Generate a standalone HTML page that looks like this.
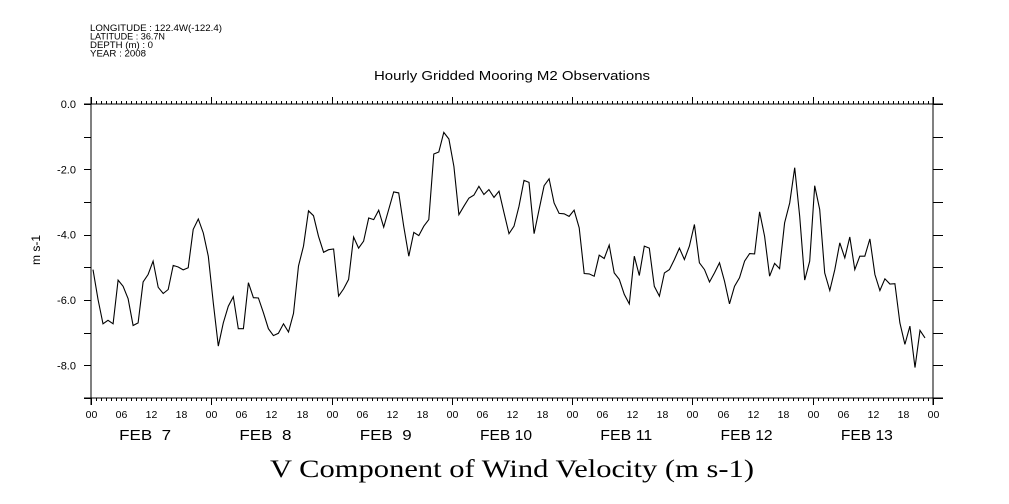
<!DOCTYPE html>
<html><head><meta charset="utf-8"><style>
html,body{margin:0;padding:0;background:#fff;}
svg{display:block;}
text{font-family:"Liberation Sans",sans-serif;fill:#000;}
</style></head><body>
<svg id="chart" width="1009" height="504" viewBox="0 0 1009 504" xmlns="http://www.w3.org/2000/svg">
<g font-size="9.5">
<text x="90" y="31" textLength="132" lengthAdjust="spacingAndGlyphs">LONGITUDE : 122.4W(-122.4)</text>
<text x="90" y="39.5" textLength="75" lengthAdjust="spacingAndGlyphs">LATITUDE : 36.7N</text>
<text x="90" y="48" textLength="63" lengthAdjust="spacingAndGlyphs">DEPTH (m) : 0</text>
<text x="90" y="56.5" textLength="56" lengthAdjust="spacingAndGlyphs">YEAR : 2008</text>
</g>
<text x="374" y="80" textLength="276" lengthAdjust="spacingAndGlyphs" font-size="13">Hourly Gridded Mooring M2 Observations</text>
<text transform="translate(40,250) rotate(-90)" text-anchor="middle" font-size="12">m s-1</text>
<text x="270" y="477" textLength="484" lengthAdjust="spacingAndGlyphs" font-size="25" style="font-family:'Liberation Serif',serif">V Component of Wind Velocity (m s-1)</text>
<g id="axes"></g>
<path id="series" fill="none" stroke="#000" stroke-width="1.1"/>
</svg>
<script>
const values = [-5.07,-5.98,-6.73,-6.62,-6.73,-5.39,-5.58,-5.96,-6.78,-6.70,-5.45,-5.22,-4.81,-5.61,-5.80,-5.68,-4.94,-4.99,-5.08,-5.01,-3.84,-3.52,-3.95,-4.66,-6.09,-7.41,-6.70,-6.19,-5.90,-6.88,-6.88,-5.47,-5.93,-5.94,-6.39,-6.88,-7.09,-7.02,-6.73,-6.98,-6.41,-4.96,-4.35,-3.27,-3.42,-4.05,-4.54,-4.46,-4.44,-5.88,-5.66,-5.37,-4.07,-4.41,-4.20,-3.49,-3.54,-3.25,
-3.77,-3.23,-2.69,-2.72,-3.74,-4.66,-3.93,-4.03,-3.74,-3.54,-1.53,-1.47,-0.87,-1.07,-1.91,-3.39,-3.13,-2.88,-2.79,-2.52,-2.77,-2.62,-2.86,-2.67,-3.33,-3.97,-3.74,-3.13,-2.34,-2.40,-3.97,-3.23,-2.50,-2.29,-3.03,-3.35,-3.36,-3.44,-3.25,-3.79,-5.19,-5.20,-5.27,-4.63,-4.73,-4.32,-5.17,-5.37,-5.83,-6.12,-4.66,-5.25,-4.35,-4.41,-5.58,-5.88,-5.17,-5.07,
-4.76,-4.41,-4.76,-4.35,-3.69,-4.86,-5.07,-5.45,-5.17,-4.86,-5.42,-6.12,-5.58,-5.32,-4.81,-4.58,-4.59,-3.30,-4.05,-5.27,-4.88,-5.04,-3.64,-3.03,-1.95,-3.44,-5.39,-4.81,-2.50,-3.23,-5.17,-5.71,-5.07,-4.25,-4.71,-4.07,-5.07,-4.66,-4.66,-4.13,-5.22,-5.71,-5.35,-5.51,-5.50,-6.70,-7.36,-6.80,-8.07,-6.93,-7.16];
const hourLabels = ["00","06","12","18"];
const dayLabels = ["FEB  7","FEB  8","FEB  9","FEB 10","FEB 11","FEB 12","FEB 13"];
const yTicks = [0,-1,-2,-3,-4,-5,-6,-7,-8,-9];
const yLabels = ["0.0","-2.0","-4.0","-6.0","-8.0"];
const yLabelValues = [0,-2,-4,-6,-8];

const X0=91, X1=933, Y0=104, Y1=398, HOURS=168, VMAX=0, VMIN=-9;
function xs(h){return X0+(X1-X0)*h/HOURS;}
function ys(v){return Y0+(Y1-Y0)*(VMAX-v)/(VMAX-VMIN);}
const NS='http://www.w3.org/2000/svg';
const axes=document.getElementById('axes');
function line(x1,y1,x2,y2,name){
  const l=document.createElementNS(NS,'line');
  l.setAttribute('x1',x1);l.setAttribute('y1',y1);l.setAttribute('x2',x2);l.setAttribute('y2',y2);
  l.setAttribute('stroke','#000');l.setAttribute('stroke-width','1');
  
  
  axes.appendChild(l);
}
function text(x,y,s,size,anchor,name,len){
  const t=document.createElementNS(NS,'text');
  t.setAttribute('x',x);t.setAttribute('y',y);t.setAttribute('font-size',size);
  t.setAttribute('text-anchor',anchor);t.textContent=s;
  if(len){t.setAttribute('textLength',len);t.setAttribute('lengthAdjust','spacingAndGlyphs');}
  
  
  t.setAttribute('xml:space','preserve');t.style.whiteSpace='pre';
  axes.appendChild(t);
}
line(X0,Y0-7,X0,Y1+7,'left-axis');
line(X1,Y0-7,X1,Y1+7,'right-axis');
line(X0-7,Y0,X1+10,Y0,'top-axis');
line(X0-7,Y1,X1+10,Y1,'bottom-axis');
for(let h=0;h<=HOURS;h++){
  const x=Math.round(xs(h))+0.5, major=h%24===0;
  line(x,Y0,x,Y0-(major?7:3),'top-tick');
  line(x,Y1,x,Y1+(major?7:3),'bottom-tick');
  if(h%6===0) text(x,418,hourLabels[(h/6)%4],10.5,'middle','x-hour-label');
}
for(let d=0;d<dayLabels.length;d++) text(xs(d*24+12)-6,440,dayLabels[d],15,'middle','x-day-label',52);
yTicks.forEach(v=>{const y=Math.round(ys(v))+0.5;line(X0-7,y,X0,y,'y-tick-left');line(X1,y,X1+10,y,'y-tick-right');});
yLabelValues.forEach((v,i)=>text(76,ys(v)+4,yLabels[i],11,'end','y-tick-label'));
document.getElementById('series').setAttribute('d',values.map((v,i)=>(i?'L':'M')+xs(i+0.4).toFixed(1)+','+ys(v).toFixed(1)).join(''));
</script>
</body></html>
